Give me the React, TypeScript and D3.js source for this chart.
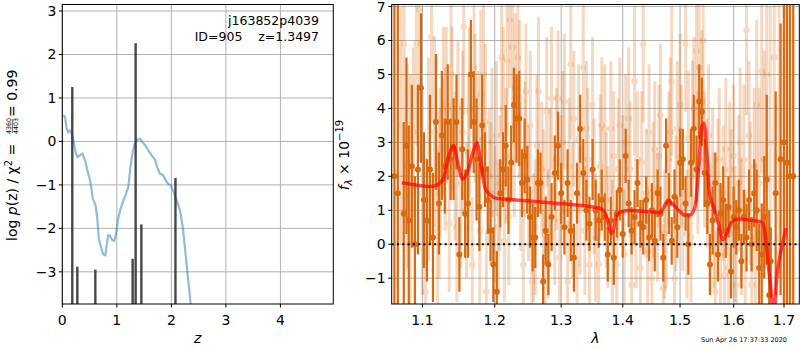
import * as d3 from "d3";

// ---- left panel: redshift probability ----
const pzCurve: [number, number][] = [
  [0.02, 0.6], [0.05, 0.56], [0.08, 0.29], [0.11, 0.21], [0.14, 0.25], [0.17, 0.18],
  [0.21, -0.02], [0.25, -0.28], [0.28, -0.36], [0.32, -0.32], [0.37, -0.28], [0.42, -0.44],
  [0.46, -0.67], [0.51, -0.9], [0.56, -1.32], [0.61, -1.47], [0.64, -1.74], [0.67, -2.24],
  [0.71, -2.43], [0.75, -2.6], [0.79, -2.62], [0.81, -2.43], [0.84, -2.16], [0.87, -2.16],
  [0.91, -2.26], [0.95, -2.29], [0.98, -2.16], [1.03, -1.74], [1.07, -1.55], [1.12, -1.36],
  [1.17, -1.2], [1.21, -1.05], [1.25, -0.59], [1.29, -0.25], [1.33, -0.05], [1.38, 0.04],
  [1.43, 0.06], [1.47, -0.02], [1.52, -0.09], [1.58, -0.21], [1.64, -0.32], [1.7, -0.42],
  [1.74, -0.59], [1.79, -0.74], [1.85, -0.78], [1.9, -0.9], [1.94, -0.97], [1.99, -1.01],
  [2.04, -1.16], [2.1, -1.36], [2.16, -1.59], [2.21, -1.97], [2.26, -2.58], [2.31, -3.2],
  [2.35, -3.69], [2.37, -3.89],
];
const pzSpikes: [number, number][] = [
  [0.183, 1.25], [0.275, -2.88], [0.606, -2.95], [1.29, -2.7], [1.345, 2.26], [1.45, -1.91], [2.075, -0.84],
];
const leftXTicks = [0, 1, 2, 3, 4];
const leftYTicks = [-3, -2, -1, 0, 1, 2, 3];
const objectName = "j163852p4039";
const objectInfo = "ID=905    z=1.3497";

// ---- right panel: spectrum [lambda, flux, err] ----
const darkPoints: [number, number, number][] = [
  [1.0635, 2.0, 9], [1.0678, 1.5, 9], [1.0755, 0.9, 2.7], [1.079, 2.9, 2.6],
  [1.082, 0.7, 2.8], [1.086, 2.3, 2.4], [1.09, 0.0, 2.0], [1.094, 2.2, 2.5], [1.098, 4.6, 2.2],
  [1.102, 1.3, 2.0], [1.106, 0.7, 1.8], [1.11, 2.2, 2.2], [1.114, 0.2, 1.9], [1.118, 3.6, 2.0],
  [1.122, 1.2, 1.5], [1.126, 3.2, 1.9], [1.13, 2.3, 1.4], [1.134, 3.6, 1.7], [1.138, 2.5, 1.2],
  [1.142, 2.8, 1.5], [1.146, 3.6, 1.4], [1.15, -0.3, 1.1], [1.154, 2.8, 1.5], [1.158, 0.9, 1.3],
  [1.162, 1.2, 1.6], [1.166, 5.0, 1.6], [1.17, 3.6, 1.5], [1.174, 2.5, 1.8], [1.178, 1.1, 1.3],
  [1.182, 3.5, 1.5], [1.186, 2.2, 1.1], [1.19, 1.3, 1.0], [1.194, 0.4, 0.9], [1.198, -0.6, 1.1],
  [1.203, -1.4, 1.2], [1.208, 1.5, 1.0], [1.212, 2.2, 1.1], [1.216, 2.9, 1.2], [1.22, 1.3, 1.0],
  [1.224, 2.4, 1.1], [1.228, 4.1, 1.1], [1.232, 3.7, 1.3], [1.236, 3.7, 1.4], [1.24, 1.8, 1.0],
  [1.244, 2.6, 1.1], [1.248, 1.9, 1.0], [1.252, 0.8, 0.9], [1.256, 0.2, 1.0], [1.26, 0.2, 0.9],
  [1.264, 1.8, 1.0], [1.268, 1.8, 0.9], [1.272, -1.1, 0.8], [1.276, 0.4, 1.0], [1.28, -0.6, 0.9],
  [1.285, 0.8, 1.0], [1.29, 2.1, 1.1], [1.295, 2.9, 1.0], [1.3, 1.5, 0.9], [1.305, 0.5, 0.8],
  [1.31, 1.8, 1.0], [1.315, 0.4, 0.9], [1.32, -0.4, 1.0], [1.325, 1.5, 0.9], [1.33, 3.4, 1.0],
  [1.335, 2.1, 1.0], [1.34, 1.0, 0.9], [1.345, 0.6, 0.8], [1.35, 2.2, 0.9], [1.355, 1.0, 0.9],
  [1.36, 0.7, 0.8], [1.365, 1.3, 0.9], [1.37, 0.8, 0.7], [1.375, -0.3, 0.8], [1.38, 0.7, 0.7],
  [1.385, -0.4, 0.8], [1.39, 0.9, 0.7], [1.395, 1.6, 0.9], [1.4, 0.3, 0.7], [1.405, 2.6, 0.8],
  [1.41, 1.2, 0.7], [1.415, 0.4, 0.7], [1.42, 0.8, 0.8], [1.425, 1.8, 0.7], [1.43, 0.6, 0.7],
  [1.435, 0.5, 0.8], [1.44, 1.3, 0.7], [1.445, 0.2, 0.7], [1.45, 1.0, 0.8], [1.455, 0.1, 0.9],
  [1.46, 1.5, 0.7], [1.465, 0.9, 0.8], [1.47, -0.4, 0.7], [1.475, 2.9, 0.8], [1.48, 1.2, 0.9],
  [1.485, 0.1, 0.7], [1.49, 1.4, 0.8], [1.495, 0.5, 0.9], [1.5, 2.4, 1.0], [1.505, 2.5, 0.9],
  [1.51, 1.2, 0.8], [1.515, 0.0, 0.9], [1.52, 2.4, 1.0], [1.525, 3.4, 1.0], [1.53, 2.2, 1.0],
  [1.535, 4.2, 1.1], [1.54, 3.9, 1.0], [1.545, 2.1, 1.0], [1.55, 1.2, 0.9], [1.555, -0.6, 0.9],
  [1.56, 0.7, 1.0], [1.565, 1.8, 0.9], [1.57, -0.3, 0.8], [1.575, 0.9, 0.9], [1.58, 1.3, 1.0],
  [1.585, 0.4, 0.8], [1.59, 1.1, 0.9], [1.595, -0.8, 0.8], [1.6, 0.8, 0.9], [1.605, 0.5, 0.8],
  [1.61, 1.0, 0.9], [1.615, -0.5, 0.8], [1.62, 0.8, 0.8], [1.625, 0.2, 1.0], [1.63, 1.3, 0.9],
  [1.635, 0.0, 0.8], [1.64, 1.5, 1.0], [1.645, 1.0, 1.2], [1.65, -0.7, 1.3], [1.655, -0.3, 1.5],
  [1.66, 0.8, 1.8], [1.665, 1.9, 2.5], [1.67, -1.5, 2.5], [1.673, -0.5, 1.0], [1.683, 1.5, 3.0],
  [1.693, 2.5, 4.0], [1.6997, 3.0, 9], [1.706, 2.4, 9], [1.712, 2.0, 9], [1.719, 2.0, 9],
];
const lightPoints: [number, number, number][] = [
  [1.072, 3.5, 3.5], [1.076, 5.9, 3.0], [1.08, 2.3, 3.0], [1.084, 1.5, 3.5], [1.088, 3.3, 2.5],
  [1.092, 5.9, 3.0], [1.096, 6.9, 2.5], [1.1, 1.5, 3.0], [1.104, -1.4, 2.5], [1.108, 2.5, 3.0],
  [1.112, 6.1, 2.5], [1.116, 3.3, 2.8], [1.12, 0.4, 2.5], [1.124, 2.4, 2.2], [1.128, 3.9, 2.5],
  [1.132, 4.1, 2.3], [1.136, 0.6, 2.0], [1.14, 4.0, 2.4], [1.144, 2.3, 2.2], [1.148, 4.0, 2.0],
  [1.152, 1.8, 2.5], [1.156, 6.4, 2.6], [1.16, 1.0, 2.0], [1.164, 3.9, 2.5], [1.168, -0.6, 2.0],
  [1.172, 4.0, 2.2], [1.176, 3.1, 2.0], [1.18, 4.4, 2.5], [1.184, 5.0, 2.3], [1.188, -1.4, 1.8],
  [1.192, 2.0, 2.0], [1.196, 3.0, 2.2], [1.2, 0.9, 2.0], [1.205, 0.5, 2.0], [1.21, 5.5, 2.3],
  [1.214, 0.1, 1.8], [1.218, 5.4, 2.2], [1.222, 6.6, 2.0], [1.226, 5.8, 2.4], [1.23, 4.6, 2.2],
  [1.234, 5.5, 2.0], [1.238, 2.0, 2.2], [1.242, -0.6, 1.8], [1.246, 4.5, 2.0], [1.25, 1.5, 2.0],
  [1.255, -1.1, 1.8], [1.26, 0.5, 2.0], [1.265, 4.5, 2.2], [1.27, 2.2, 2.0], [1.275, -0.8, 1.8],
  [1.28, 0.3, 1.9], [1.285, 4.3, 2.1], [1.29, 0.7, 1.9], [1.295, 4.3, 2.0], [1.3, 1.9, 1.9],
  [1.305, 4.2, 2.0], [1.31, -1.1, 1.8], [1.315, 5.3, 2.2], [1.32, 3.7, 2.0], [1.325, -0.6, 1.8],
  [1.33, 1.0, 1.9], [1.335, 5.2, 2.1], [1.34, 3.4, 2.0], [1.345, -0.6, 1.8], [1.35, 4.1, 2.0],
  [1.355, 0.2, 1.9], [1.36, -0.6, 1.8], [1.365, 3.5, 2.0], [1.37, 3.4, 1.9], [1.375, 0.5, 1.8],
  [1.38, 3.4, 2.0], [1.385, 2.6, 1.9], [1.39, -0.6, 1.8], [1.395, 3.5, 2.0], [1.4, 1.9, 1.9],
  [1.405, 3.0, 2.0], [1.41, 3.7, 2.1], [1.415, -1.2, 1.8], [1.42, 4.8, 2.2], [1.425, 2.5, 2.0],
  [1.43, -0.7, 1.8], [1.435, 5.9, 2.3], [1.44, 1.5, 1.9], [1.445, 3.3, 2.0], [1.45, -1.0, 1.8],
  [1.455, 2.8, 2.0], [1.46, 0.8, 1.9], [1.465, 3.8, 2.1], [1.47, -1.3, 1.9], [1.475, 0.7, 2.0],
  [1.48, 2.5, 2.0], [1.485, 4.8, 2.2], [1.49, -1.0, 1.9], [1.495, 3.4, 2.0], [1.5, 4.1, 2.1],
  [1.505, 1.1, 1.9], [1.51, 5.9, 2.0], [1.515, 3.1, 2.0], [1.52, 0.2, 1.9], [1.525, 4.0, 2.1],
  [1.53, 5.7, 2.3], [1.535, 5.2, 2.2], [1.54, 4.2, 2.1], [1.545, 2.5, 2.0], [1.55, 1.8, 1.9],
  [1.555, 0.5, 1.9], [1.56, 2.0, 2.0], [1.565, -1.4, 1.8], [1.57, 1.7, 2.0], [1.575, -0.3, 1.9],
  [1.58, 1.5, 2.0], [1.585, 2.8, 2.1], [1.59, -0.7, 1.9], [1.595, 1.4, 2.0], [1.6, 2.6, 2.1],
  [1.605, -1.2, 1.9], [1.61, 1.8, 2.0], [1.615, 0.5, 2.0], [1.62, 2.5, 2.2], [1.625, 6.3, 2.5],
  [1.63, 3.2, 2.2], [1.635, -1.2, 2.0], [1.64, 2.3, 2.3], [1.645, 4.1, 2.5], [1.65, 1.8, 2.8],
  [1.655, 5.1, 3.0], [1.66, 2.5, 3.2], [1.665, 5.0, 3.5], [1.672, 3.0, 4.0], [1.68, 5.5, 4.5],
  [1.69, 4.0, 5.0],
  [1.1225, 1.5, 2.5], [1.1305, 2.8, 2.4], [1.1385, 5.0, 2.4], [1.1465, 0.5, 2.2], [1.1545, 3.3, 2.4],
  [1.1625, 2.7, 2.3], [1.1705, 5.2, 2.4], [1.1785, 0.4, 2.2], [1.1865, 3.6, 2.3], [1.1945, 1.5, 2.1],
  [1.2025, 3.2, 2.2], [1.2075, 1.8, 2.0], [1.2125, 4.0, 2.4], [1.2165, 2.6, 2.0], [1.2205, 0.8, 2.0],
  [1.2285, 3.0, 2.2], [1.2365, 4.3, 2.3], [1.2445, 2.8, 2.0], [1.2525, 3.5, 2.2], [1.2575, 0.2, 1.9],
  [1.2625, 2.9, 2.1], [1.2725, 1.4, 2.0], [1.2775, 3.9, 2.2], [1.2825, 2.0, 2.0], [1.2925, 2.5, 2.1],
  [1.2975, -0.4, 1.9], [1.3025, 3.0, 2.1], [1.3125, 2.3, 2.0], [1.3175, 1.0, 2.0], [1.3275, 3.1, 2.2],
  [1.3375, 0.4, 1.9], [1.3425, 2.5, 2.1], [1.3525, 1.7, 2.0], [1.3625, 2.3, 2.1], [1.3725, 1.3, 2.0],
  [1.3825, 0.0, 1.9], [1.3925, 2.2, 2.1], [1.4025, -0.3, 1.9], [1.4125, 2.2, 2.0], [1.4225, 0.6, 1.9],
  [1.4325, 2.4, 2.1], [1.4425, -0.2, 1.9], [1.4525, 1.6, 2.0], [1.4625, 2.6, 2.1], [1.4725, 0.3, 1.9],
  [1.4825, 3.3, 2.2], [1.4925, 1.2, 2.0], [1.5025, 2.6, 2.1], [1.5125, 0.3, 1.9], [1.5225, 3.2, 2.2],
  [1.5325, 2.4, 2.1], [1.5425, 6.0, 2.3], [1.5525, 3.2, 2.1], [1.5625, 0.7, 2.0], [1.5725, 2.5, 2.1],
  [1.5825, -0.9, 1.9], [1.5925, 2.2, 2.0], [1.6025, 0.3, 2.0], [1.6125, 3.0, 2.2], [1.6225, -0.4, 2.0],
  [1.6325, 1.5, 2.1], [1.6425, 0.2, 2.2],
];
const modelLine: [number, number][] = [
  [1.073, 1.81], [1.0926, 1.74], [1.1102, 1.7], [1.1192, 1.74], [1.1282, 1.94], [1.135, 2.58],
  [1.1418, 2.9], [1.1479, 2.38], [1.1548, 1.92], [1.1613, 2.14], [1.1688, 2.68], [1.1745, 2.99],
  [1.1801, 2.38], [1.1862, 1.65], [1.1934, 1.45], [1.203, 1.35], [1.2224, 1.32], [1.2522, 1.27],
  [1.3035, 1.19], [1.346, 1.11], [1.3622, 1.06], [1.3705, 0.91], [1.3759, 0.62], [1.3804, 0.32],
  [1.3842, 0.42], [1.3887, 0.81], [1.3982, 0.96], [1.4123, 0.99], [1.441, 0.96], [1.4642, 0.93],
  [1.4701, 1.06], [1.479, 1.3], [1.4851, 1.21], [1.497, 1.01], [1.509, 0.86], [1.5181, 0.86],
  [1.5274, 1.11], [1.5334, 2.09], [1.5397, 3.46], [1.544, 3.56], [1.549, 2.68], [1.5539, 1.5],
  [1.5614, 1.11], [1.5708, 0.62], [1.5792, 0.13], [1.5868, 0.32], [1.5964, 0.66], [1.6092, 0.74],
  [1.6319, 0.71], [1.6551, 0.66], [1.6618, 0.32], [1.6684, -0.66], [1.6753, -1.64], [1.678, -2.3],
  [1.6855, -0.95], [1.6957, -0.07], [1.7045, 0.47],
];
const rightXTicks = [1.1, 1.2, 1.3, 1.4, 1.5, 1.6, 1.7];
const rightYTicks = [-1, 0, 1, 2, 3, 4, 5, 6, 7];
const timestamp = "Sun Apr 26 17:37:33 2020";

const FONT = "DejaVu Sans";
const ORANGE = "#d8690f";
const GRID = "#b0b0b0";
const fmt = (v: number) => (v < 0 ? "\u2212" + Math.abs(v) : String(v));

export default function App() {
  const lx = d3.scaleLinear().domain([0, 4.97]).range([62.3, 333.3]);
  const ly = d3.scaleLinear().domain([-3.74, 3.15]).range([304, 4.5]);
  const rx = d3.scaleLog().domain([1.06, 1.7316]).range([391.7, 799.3]);
  const ry = d3.scaleLinear().domain([-1.76, 7.06]).range([304, 4.5]);

  const pzPath = d3.line<[number, number]>().x((d) => lx(d[0])).y((d) => ly(d[1]))(pzCurve) ?? "";
  const modelPath =
    d3.line<[number, number]>().x((d) => rx(d[0])).y((d) => ry(d[1])).curve(d3.curveMonotoneX)(modelLine) ?? "";

  const [lx0, lx1] = lx.range();
  const [ly0, ly1] = ly.range();
  const [rx0, rx1] = rx.range();
  const [ry0, ry1] = ry.range();

  return (
    <svg width={800} height={350} style={{ position: "absolute", left: 0, top: 0, background: "#fff" }} fontFamily={FONT}>
      <defs>
        <clipPath id="clipL">
          <rect x={lx0} y={ly1} width={lx1 - lx0} height={ly0 - ly1} />
        </clipPath>
        <clipPath id="clipR">
          <rect x={rx0} y={ry1} width={rx1 - rx0} height={ry0 - ry1} />
        </clipPath>
      </defs>
      <rect width={800} height={350} fill="#fff" />

      {/* left panel grid */}
      {leftXTicks.map((t) => (
        <line key={"lgx" + t} x1={lx(t)} x2={lx(t)} y1={ly1} y2={ly0} stroke={GRID} strokeWidth={1} />
      ))}
      {leftYTicks.map((t) => (
        <line key={"lgy" + t} x1={lx0} x2={lx1} y1={ly(t)} y2={ly(t)} stroke={GRID} strokeWidth={1} />
      ))}

      <g clipPath="url(#clipL)">
        <path d={pzPath} fill="none" stroke="#1f77b4" strokeOpacity={0.5} strokeWidth={2.2} />
        {pzSpikes.map(([z, v], i) => (
          <rect key={i} x={lx(z - 0.022)} width={lx(z + 0.022) - lx(z - 0.022)} y={ly(v)} height={ly0 - ly(v) + 2} fill="#333" fillOpacity={0.9} />
        ))}
      </g>

      {/* left panel axes */}
      <rect x={lx0} y={ly1} width={lx1 - lx0} height={ly0 - ly1} fill="none" stroke="#000" strokeWidth={1} />
      {leftXTicks.map((t) => (
        <g key={"ltx" + t}>
          <line x1={lx(t)} x2={lx(t)} y1={ly0} y2={ly0 + 3.5} stroke="#000" />
          <text x={lx(t)} y={325} fontSize={14} textAnchor="middle">{fmt(t)}</text>
        </g>
      ))}
      {leftYTicks.map((t) => (
        <g key={"lty" + t}>
          <line x1={lx0 - 3.5} x2={lx0} y1={ly(t)} y2={ly(t)} stroke="#000" />
          <text x={lx0 - 6} y={ly(t) + 5} fontSize={14} textAnchor="end">{fmt(t)}</text>
        </g>
      ))}
      <text x={319} y={24.5} fontSize={12.5} textAnchor="end">{objectName}</text>
      <text x={319} y={41} fontSize={12.5} textAnchor="end" style={{ whiteSpace: "pre" }}>{objectInfo}</text>
      <text x={(lx0 + lx1) / 2} y={343} fontSize={14} fontStyle="italic" textAnchor="middle">z</text>

      {/* left y label */}
      <g transform="rotate(-90)">
        <text x={-241} y={16.8} fontSize={14}>
          log <tspan fontStyle="italic">p</tspan>(z) / χ<tspan dy={-5} fontSize={10}>2</tspan>
          <tspan dy={5}> =</tspan>
        </text>
        <text x={-126} y={11} fontSize={6.3} textAnchor="middle">4360</text>
        <line x1={-133} x2={-119} y1={12.4} y2={12.4} stroke="#000" strokeWidth={0.6} />
        <text x={-126} y={18.3} fontSize={6.3} textAnchor="middle">4403</text>
        <text x={-117} y={16.8} fontSize={14}>= 0.99</text>
      </g>

      {/* right panel grid */}
      {rightXTicks.map((t) => (
        <line key={"rgx" + t} x1={rx(t)} x2={rx(t)} y1={ry1} y2={ry0} stroke={GRID} strokeWidth={1} />
      ))}
      {rightYTicks.map((t) => (
        <line key={"rgy" + t} x1={rx0} x2={rx1} y1={ry(t)} y2={ry(t)} stroke={GRID} strokeWidth={1} />
      ))}

      <g clipPath="url(#clipR)">
        {lightPoints.map(([l, f, e], i) => (
          <g key={"lp" + i} opacity={0.25}>
            <line x1={rx(l)} x2={rx(l)} y1={ry(f - e)} y2={ry(f + e)} stroke={ORANGE} strokeWidth={3} />
            <circle cx={rx(l)} cy={ry(f)} r={3.2} fill={ORANGE} />
          </g>
        ))}
        {darkPoints.map(([l, f, e], i) => (
          <g key={"dp" + i}>
            <line x1={rx(l)} x2={rx(l)} y1={ry(f - e)} y2={ry(f + e)} stroke={ORANGE} strokeWidth={2.2} />
            <circle cx={rx(l)} cy={ry(f)} r={3} fill={ORANGE} />
          </g>
        ))}
        <line x1={rx0} x2={rx1} y1={ry(0)} y2={ry(0)} stroke="#000" strokeWidth={2} strokeDasharray="2 3.3" />
        <path d={modelPath} fill="none" stroke="red" strokeOpacity={0.7} strokeWidth={3.5} />
      </g>

      {/* right panel axes */}
      <rect x={rx0} y={ry1} width={rx1 - rx0} height={ry0 - ry1} fill="none" stroke="#000" strokeWidth={1} />
      {rightXTicks.map((t) => (
        <g key={"rtx" + t}>
          <line x1={rx(t)} x2={rx(t)} y1={ry0} y2={ry0 + 3.5} stroke="#000" />
          <text x={rx(t)} y={325} fontSize={14} textAnchor="middle">{t.toFixed(1)}</text>
        </g>
      ))}
      {rightYTicks.map((t) => (
        <g key={"rty" + t}>
          <line x1={rx0 - 3.5} x2={rx0} y1={ry(t)} y2={ry(t)} stroke="#000" />
          <text x={rx0 - 6} y={ry(t) + 5} fontSize={14} textAnchor="end">{fmt(t)}</text>
        </g>
      ))}
      <text x={(rx0 + rx1) / 2} y={343} fontSize={14} fontStyle="italic" textAnchor="middle">λ</text>
      <g transform="rotate(-90)">
        <text x={-155} y={349} fontSize={14} textAnchor="middle">
          <tspan fontStyle="italic">f</tspan>
          <tspan dy={3} fontSize={10} fontStyle="italic">λ</tspan>
          <tspan dy={-3}> × 10</tspan>
          <tspan dy={-6} fontSize={10}>−19</tspan>
        </text>
      </g>
      <text x={787} y={342} fontSize={6.5} textAnchor="end">{timestamp}</text>
    </svg>
  );
}
